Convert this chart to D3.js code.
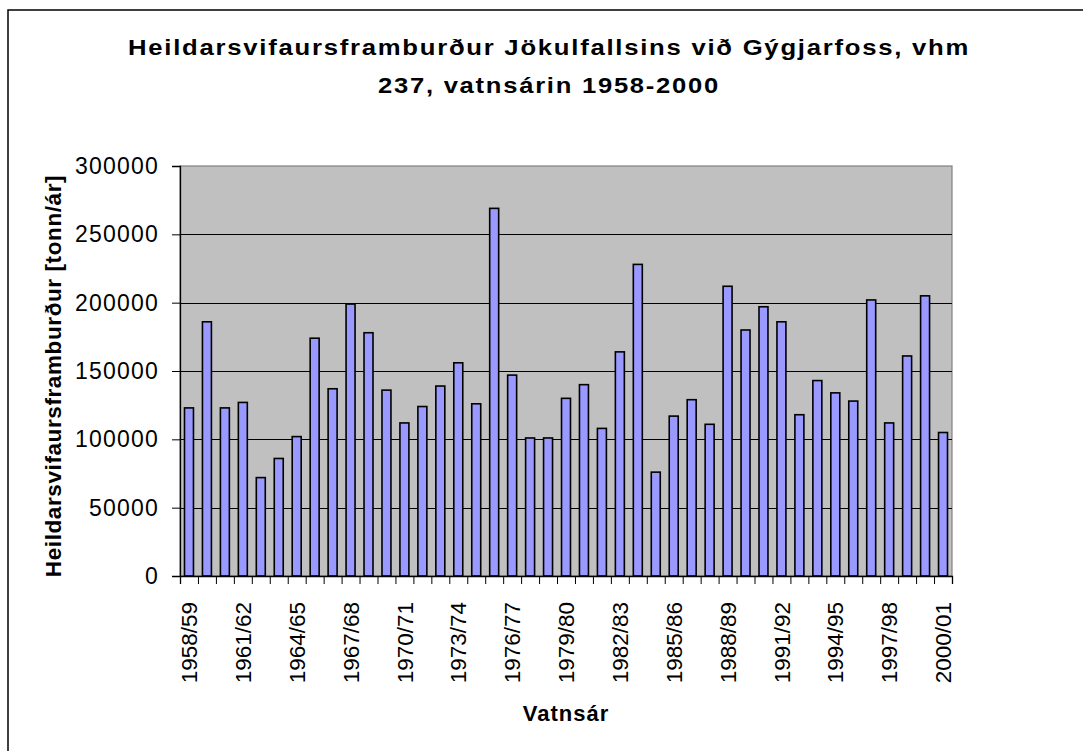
<!DOCTYPE html>
<html>
<head>
<meta charset="utf-8">
<script src="https://cdn.jsdelivr.net/npm/d3@7"></script>
<style>
  body { margin: 0; background: #fff; }
  svg { display: block; font-family: Arial, "Liberation Sans", sans-serif; }
</style>
</head>
<body>
<svg id="chart"></svg>
<script>
const seasons = ['1958/59','1959/60','1960/61','1961/62','1962/63','1963/64','1964/65','1965/66','1966/67','1967/68',
  '1968/69','1969/70','1970/71','1971/72','1972/73','1973/74','1974/75','1975/76','1976/77','1977/78',
  '1978/79','1979/80','1980/81','1981/82','1982/83','1983/84','1984/85','1985/86','1986/87','1987/88',
  '1988/89','1989/90','1990/91','1991/92','1992/93','1993/94','1994/95','1995/96','1996/97','1997/98',
  '1998/99','1999/00','2000/01']
const load = [123000,186000,123000,127000,72000,86000,102000,174000,137000,199000,
  178000,136000,112000,124000,139000,156000,126000,269000,147000,101000,
  101000,130000,140000,108000,164000,228000,76000,117000,129000,111000,
  212000,180000,197000,186000,118000,143000,134000,128000,202000,112000,
  161000,205000,105000]
const yTicks = [0,50000,100000,150000,200000,250000,300000]
const titleLines = ['Heildarsvifaursframburður Jökulfallsins við Gýgjarfoss, vhm', '237, vatnsárin 1958-2000']
const titleWidths = [842, 342]
const yTitle = 'Heildarsvifaursframburður [tonn/ár]'
const xTitle = 'Vatnsár'

const width = 1083
const height = 751
const padLeft = 180, padRight = 952, padTop = 166, padBottom = 576

const svg = d3.select('#chart').attr('width', width).attr('height', height)

// outer frame (right/bottom edges fall outside the picture)
svg.append('rect')
  .attr('x', 8).attr('y', 10).attr('width', 1100).attr('height', 800)
  .attr('fill', '#fff').attr('stroke', '#000').attr('stroke-width', 1.5)

const data = seasons.map((s, i) => ({season: s, value: load[i]}))

const xScale = d3.scaleBand().domain(seasons).range([padLeft, padRight]).paddingInner(0.5).paddingOuter(0.25)
const yScale = d3.scaleLinear().domain([0, 300000]).range([padBottom, padTop])

// plot area
svg.append('rect')
  .attr('x', padLeft).attr('y', padTop).attr('width', padRight - padLeft).attr('height', padBottom - padTop)
  .attr('fill', '#c0c0c0').attr('stroke', '#808080').attr('stroke-width', 1.2)

// gridlines
svg.append('g').selectAll('line')
  .data(yTicks.filter(t => t > 0 && t < 300000))
  .enter().append('line')
  .attr('x1', padLeft).attr('x2', padRight)
  .attr('y1', d => Math.round(yScale(d)) + 0.5).attr('y2', d => Math.round(yScale(d)) + 0.5)
  .attr('stroke', '#000').attr('stroke-width', 1)

// bars
svg.append('g').selectAll('rect')
  .data(data)
  .enter().append('rect')
  .attr('x', d => xScale(d.season))
  .attr('y', d => yScale(d.value))
  .attr('width', xScale.bandwidth())
  .attr('height', d => padBottom - yScale(d.value))
  .attr('fill', '#9999ff')
  .attr('stroke', '#000').attr('stroke-width', 1.6)

// y axis
const yAxis = d3.axisLeft(yScale).tickValues(yTicks).tickSize(8).tickPadding(13).tickFormat(d3.format('d'))
const gy = svg.append('g').attr('transform', `translate(${padLeft},0)`).call(yAxis)
gy.select('.domain').attr('stroke', '#000').attr('stroke-width', 1.3)
gy.selectAll('text').attr('font-size', 23).attr('letter-spacing', 1.2).attr('fill', '#000')
  .attr('font-family', 'Arial, "Liberation Sans", sans-serif')

// x axis: tick marks on category boundaries
const tickScale = d3.scaleLinear().domain([0, seasons.length]).range([padLeft, padRight])
const xTicks = d3.axisBottom(tickScale).tickValues(d3.range(seasons.length + 1)).tickSize(8).tickFormat('')
const gx = svg.append('g').attr('transform', `translate(0,${padBottom})`).call(xTicks)
gx.select('.domain').attr('stroke', '#000').attr('stroke-width', 1.3)

// x labels, every third season
const xLabels = d3.axisBottom(xScale).tickValues(seasons.filter((s, i) => i % 3 === 0)).tickSize(0)
const gl = svg.append('g').attr('transform', `translate(0,${padBottom})`).call(xLabels)
gl.select('.domain').remove()
gl.selectAll('text')
  .attr('font-size', 22.5).attr('fill', '#000')
  .attr('font-family', 'Arial, "Liberation Sans", sans-serif')
  .attr('text-anchor', 'end')
  .attr('transform', 'rotate(-90)')
  .attr('x', -26).attr('y', 0).attr('dy', '0.36em')

// titles (glyphs a bit stretched, like the original)
svg.append('g').selectAll('text')
  .data(titleLines)
  .enter().append('text')
  .attr('x', 549).attr('y', (d, i) => 55 + i * 38)
  .attr('text-anchor', 'middle')
  .attr('font-size', 22).attr('font-weight', 'bold').attr('letter-spacing', 1.5)
  .attr('textLength', (d, i) => titleWidths[i]).attr('lengthAdjust', 'spacingAndGlyphs')
  .text(d => d)

svg.append('text')
  .attr('transform', `translate(61,${(padTop + padBottom) / 2 + 5}) rotate(-90)`)
  .attr('text-anchor', 'middle')
  .attr('font-size', 22.5).attr('font-weight', 'bold').attr('letter-spacing', 0.6)
  .text(yTitle)

svg.append('text')
  .attr('x', (padLeft + padRight) / 2).attr('y', 721)
  .attr('text-anchor', 'middle')
  .attr('font-size', 22).attr('font-weight', 'bold').attr('letter-spacing', 1)
  .text(xTitle)
</script>
</body>
</html>
